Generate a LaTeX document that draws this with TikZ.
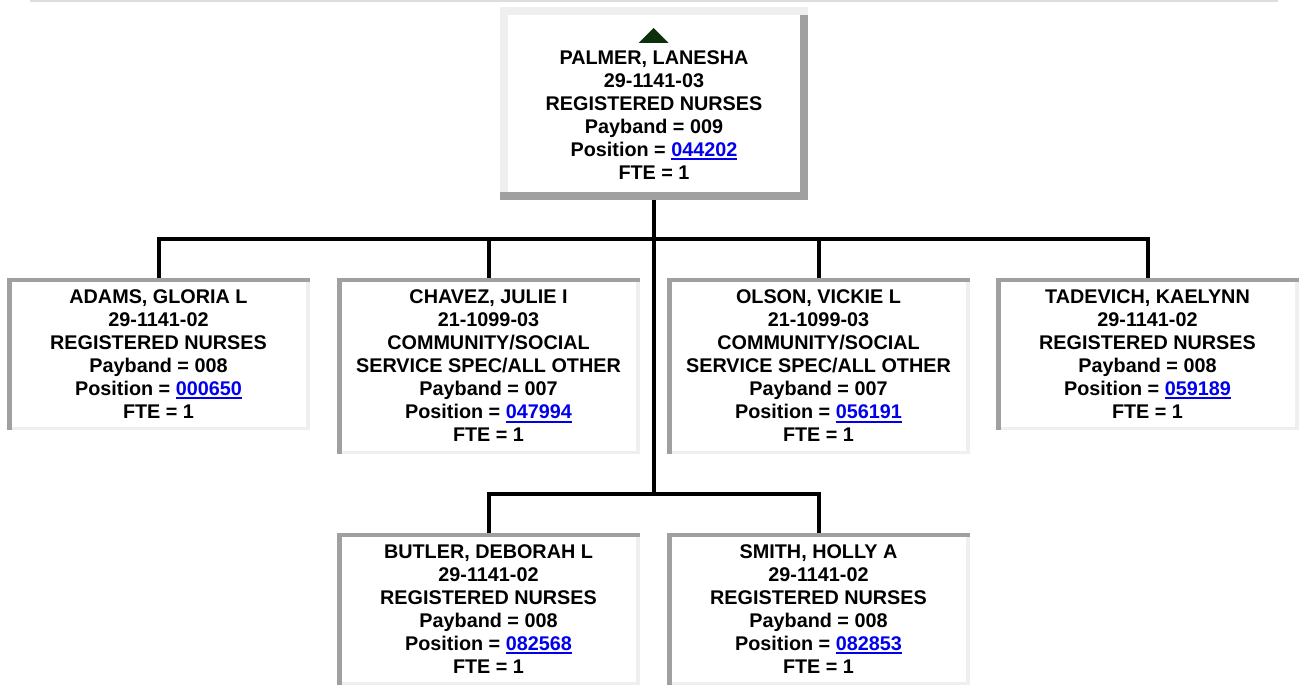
\documentclass[tikz,border=0pt]{standalone}
\usepackage{fontspec}
\setmainfont{Liberation Sans}
\definecolor{bdark}{HTML}{A0A0A0}
\definecolor{blight}{HTML}{EFEFEF}
\definecolor{lnk}{HTML}{0000EE}
\definecolor{trig}{HTML}{0B300B}
\definecolor{toprule}{HTML}{DDDDDD}
\newcommand\poslink[1]{\textcolor{lnk}{\setbox0=\hbox{#1}\rlap{\rule[-3.6pt]{\wd0}{1.8pt}}\box0}}
\tikzset{
  boxfont/.style={font={\fontsize{19.8pt}{23pt}\selectfont\bfseries}},
  kidbox/.style={boxfont, align=center, inner sep=0pt, outer sep=0pt,
    minimum width=303pt, fill=white,
    path picture={
      \fill[bdark] (path picture bounding box.north west) rectangle ([yshift=-4pt]path picture bounding box.north east);
      \fill[bdark] (path picture bounding box.north west) rectangle ([xshift=4.5pt]path picture bounding box.south west);
      \fill[blight] ([xshift=4.5pt,yshift=3.5pt]path picture bounding box.south west) rectangle (path picture bounding box.south east);
      \fill[blight] ([xshift=-4.5pt,yshift=-4pt]path picture bounding box.north east) rectangle (path picture bounding box.south east);
    }},
  bossbox/.style={boxfont, align=center, inner sep=0pt, outer sep=0pt,
    minimum width=308pt, minimum height=193pt, fill=white,
    path picture={
      \fill[blight] (path picture bounding box.north west) rectangle ([yshift=-8pt]path picture bounding box.north east);
      \fill[blight] (path picture bounding box.north west) rectangle ([xshift=8pt]path picture bounding box.south west);
      \fill[bdark] ([xshift=-8pt,yshift=-8pt]path picture bounding box.north east) rectangle (path picture bounding box.south east);
      \fill[bdark] (path picture bounding box.south west) rectangle ([yshift=8pt]path picture bounding box.south east);
    }},
  conn/.style={draw=black, line width=4pt},
}
\begin{document}
\begin{tikzpicture}[x=1pt,y=-1pt]
\useasboundingbox (0,0) rectangle (1299,687);
\fill[white] (0,0) rectangle (1299,687);
\draw[toprule, line width=1.6pt] (30,0.8) -- (1278,0.8);

% boss
\node[bossbox] (palmer) at (654,103.5) {\rule{0pt}{14pt}\\PALMER, LANESHA\\29-1141-03\\REGISTERED NURSES\\Payband = 009\\Position = \poslink{044202}\\FTE = 1};
\fill[trig] (638.5,43) -- (653.5,28) -- (668.5,43) -- cycle;

% first row
\node[kidbox, minimum height=152pt] (adams) at (158.5,354) {ADAMS, GLORIA L\\29-1141-02\\REGISTERED NURSES\\Payband = 008\\Position = \poslink{000650}\\FTE = 1};
\node[kidbox, minimum height=176pt] (chavez) at (488.5,366) {CHAVEZ, JULIE I\\21-1099-03\\COMMUNITY/SOCIAL\\SERVICE SPEC/ALL OTHER\\Payband = 007\\Position = \poslink{047994}\\FTE = 1};
\node[kidbox, minimum height=176pt] (olson) at (818.5,366) {OLSON, VICKIE L\\21-1099-03\\COMMUNITY/SOCIAL\\SERVICE SPEC/ALL OTHER\\Payband = 007\\Position = \poslink{056191}\\FTE = 1};
\node[kidbox, minimum height=152pt] (tadevich) at (1147.5,354) {TADEVICH, KAELYNN\\29-1141-02\\REGISTERED NURSES\\Payband = 008\\Position = \poslink{059189}\\FTE = 1};

% second row
\node[kidbox, minimum height=152pt] (butler) at (488.5,609) {BUTLER, DEBORAH L\\29-1141-02\\REGISTERED NURSES\\Payband = 008\\Position = \poslink{082568}\\FTE = 1};
\node[kidbox, minimum height=152pt] (smith) at (818.5,609) {SMITH, HOLLY A\\29-1141-02\\REGISTERED NURSES\\Payband = 008\\Position = \poslink{082853}\\FTE = 1};

% connectors
\coordinate (j1) at (654,239);
\coordinate (j2) at (654,494);
\draw[conn] (palmer.south) -- ([yshift=-2pt]j2);
\draw[conn] (j1) -| (adams.north);
\draw[conn] (j1) -| (chavez.north);
\draw[conn] (j1) -| (olson.north);
\draw[conn] (j1) -| (tadevich.north);
\draw[conn] (j2) -| (butler.north);
\draw[conn] (j2) -| (smith.north);
\end{tikzpicture}
\end{document}
